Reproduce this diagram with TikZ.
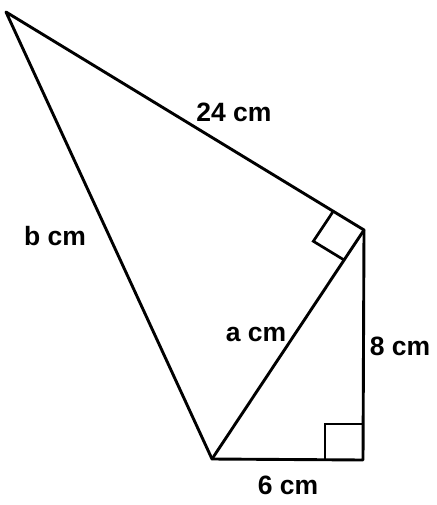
\documentclass[tikz,border=0pt]{standalone}
\usepackage{fontspec}
\setmainfont{Liberation Sans}
\usetikzlibrary{calc}
\begin{document}
\begin{tikzpicture}[x=1pt,y=-1pt,
  edge/.style={line width=2.9pt,line join=round,line cap=round},
  rightmark/.style={line width=2.7pt},
  lbl/.style={font=\bfseries\fontsize{26.5}{30}\selectfont,inner sep=0pt,anchor=base}]
\useasboundingbox (0,0) rectangle (436,505);
\coordinate (A) at (6,12);
\coordinate (C) at (364,230);
\coordinate (D) at (363,460);
\coordinate (B) at (212,459);
\draw[edge] (A) -- (C) -- (D) -- (B) -- cycle;
\draw[edge] (B) -- (C);
% right angle at D
\draw[rightmark] (325,460) -- (325,424) -- (363,424);
% right angle at C
\coordinate (P) at ($(C)!36pt!(A)$);
\coordinate (Q) at ($(C)!36pt!(B)$);
\draw[rightmark] (P) -- ($(P)+(Q)-(C)$) -- (Q);
\node[lbl] (l24) at (234,122) {24 cm};
\node[lbl] (lb) at (55,245) {b cm};
\node[lbl] (la) at (256,341) {a cm};
\node[lbl] (l8) at (400,355) {8 cm};
\node[lbl] (l6) at (288,494) {6 cm};
\end{tikzpicture}
\end{document}
